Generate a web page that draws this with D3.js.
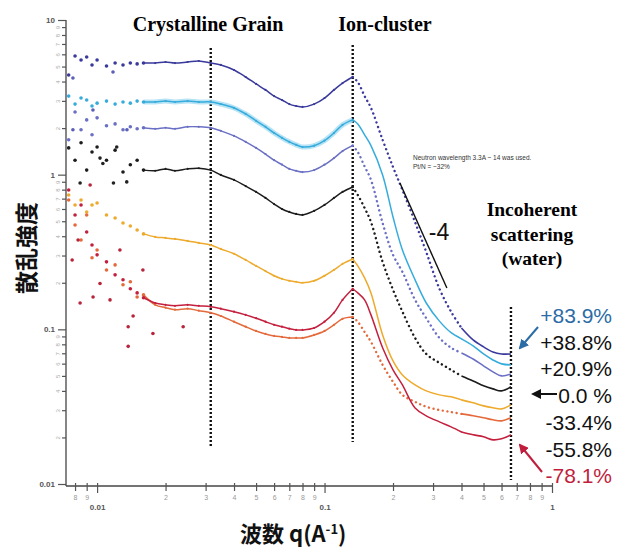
<!DOCTYPE html>
<html>
<head>
<meta charset="utf-8">
<script src="https://cdn.jsdelivr.net/npm/d3@7"></script>
<style>
  body { margin: 0; background: #fff; }
</style>
</head>
<body>
<div id="chart"></div>
<script>
// scattering vector q (1/A), shared by every curve
const qValues = [0.0075, 0.008, 0.0085, 0.009, 0.0095, 0.010, 0.011, 0.012, 0.013, 0.014,
  0.015, 0.016, 0.018, 0.020, 0.022, 0.025, 0.028, 0.0316, 0.035, 0.04,
  0.045, 0.05, 0.055, 0.06, 0.065, 0.07, 0.075, 0.08, 0.09, 0.10,
  0.11, 0.12, 0.133, 0.14, 0.15, 0.16, 0.18, 0.20, 0.22, 0.25,
  0.28, 0.32, 0.36, 0.40, 0.45, 0.50, 0.55, 0.60, 0.66];

// scattering intensity for each humidity change
const p839 = [4.41, 5.85, 5.51, 5.77, 5.12, 5.51, 5.04, 5.27, 5.12, 5.27,
  5.20, 5.27, 5.27, 5.35, 5.27, 5.35, 5.43, 5.27, 5.12, 4.75,
  4.28, 3.86, 3.53, 3.22, 3.04, 2.86, 2.78, 2.74, 2.86, 3.13,
  3.53, 3.91, 4.28, 3.97, 3.22, 2.70, 1.68, 1.12, 0.796, 0.494,
  0.316, 0.183, 0.130, 0.102, 0.0854, 0.0770, 0.0714, 0.0693, 0.0693];
const p388 = [3.22, 2.86, 3.13, 3.04, 2.78, 2.90, 2.99, 2.86, 2.95, 2.90,
  2.99, 2.95, 2.95, 2.99, 2.95, 2.99, 2.95, 2.95, 2.86, 2.70,
  2.47, 2.23, 2.04, 1.86, 1.73, 1.63, 1.56, 1.51, 1.54, 1.66,
  1.86, 2.10, 2.26, 2.13, 1.81, 1.54, 0.996, 0.533, 0.326, 0.209,
  0.148, 0.113, 0.0951, 0.0867, 0.0781, 0.0693, 0.0634, 0.0598, 0.0589];
const p209 = [1.68, 2.54, 1.95, 2.26, 1.81, 2.33, 2.07, 2.13, 1.95, 2.04,
  1.98, 2.01, 1.98, 2.01, 1.98, 2.04, 2.04, 2.01, 1.92, 1.78,
  1.63, 1.49, 1.36, 1.24, 1.16, 1.09, 1.06, 1.04, 1.07, 1.16,
  1.28, 1.42, 1.54, 1.40, 1.13, 0.925, 0.487, 0.303, 0.235, 0.155,
  0.118, 0.0880, 0.0760, 0.0704, 0.0643, 0.0580, 0.0531, 0.0500, 0.0515];
const p000 = [1.49, 1.24, 1.61, 1.07, 1.40, 1.51, 1.24, 1.44, 1.04, 1.16,
  1.24, 1.07, 1.06, 1.09, 1.06, 1.09, 1.10, 1.07, 0.996, 0.925,
  0.844, 0.773, 0.707, 0.646, 0.600, 0.574, 0.557, 0.549, 0.583, 0.637,
  0.707, 0.773, 0.832, 0.739, 0.609, 0.494, 0.273, 0.180, 0.130, 0.0880,
  0.0693, 0.0607, 0.0547, 0.0500, 0.0464, 0.0431, 0.0412, 0.0400, 0.0425];
const m334 = [0.739, 0.637, 0.686, 0.574, 0.637, 0.656, 0.549, 0.525, 0.487, 0.466,
  0.439, 0.414, 0.396, 0.390, 0.384, 0.373, 0.362, 0.351, 0.331, 0.308,
  0.281, 0.257, 0.238, 0.222, 0.212, 0.206, 0.203, 0.200, 0.206, 0.222,
  0.242, 0.265, 0.285, 0.257, 0.215, 0.172, 0.0920, 0.0625, 0.0507, 0.0437,
  0.0400, 0.0377, 0.0366, 0.0350, 0.0335, 0.0320, 0.0311, 0.0306, 0.0325];
const m558 = [0.686, 0.473, 0.378, 0.549, 0.290, 0.326, 0.242, 0.261, 0.194, 0.203,
  0.162, 0.167, 0.144, 0.138, 0.134, 0.136, 0.132, 0.128, 0.122, 0.112,
  0.104, 0.0976, 0.0934, 0.0906, 0.0893, 0.0880, 0.0880, 0.0880, 0.0920, 0.0976,
  0.107, 0.117, 0.120, 0.112, 0.0962, 0.0829, 0.0589, 0.0458, 0.0377, 0.0340,
  0.0316, 0.0301, 0.0292, 0.0284, 0.0276, 0.0268, 0.0260, 0.0256, 0.0268];
const m781 = [0.796, 0.549, 0.637, 0.426, 0.351, 0.303, 0.273, 0.225, 0.209, 0.183,
  0.172, 0.160, 0.148, 0.144, 0.142, 0.144, 0.142, 0.140, 0.136, 0.130,
  0.124, 0.118, 0.112, 0.107, 0.104, 0.101, 0.0991, 0.0991, 0.102, 0.112,
  0.128, 0.155, 0.183, 0.172, 0.155, 0.124, 0.0760, 0.0547, 0.0437, 0.0310,
  0.0276, 0.0252, 0.0234, 0.0217, 0.0208, 0.0202, 0.0193, 0.0196, 0.0208];

// stray low-q points
const redScatterQ = [0.00777, 0.00825, 0.00842, 0.00932, 0.0096, 0.0103, 0.0114, 0.0126, 0.0137, 0.0137, 0.0144, 0.0159, 0.0176, 0.0239];
const redScatterI = [0.281, 0.378, 0.148, 0.857, 0.162, 0.198, 0.155, 0.326, 0.104, 0.0776, 0.122, 0.242, 0.0939, 0.104];
const blackScatterQ = [0.00842, 0.0103, 0.0106, 0.0118, 0.0122, 0.0135];
const blackScatterI = [0.884, 1.28, 1.18, 0.884, 1.51, 0.898];
const blueScatterQ = [0.00783, 0.01175, 0.00959, 0.01353, 0.00783];
const blueScatterI = [4.22, 4.61, 2.62, 1.95, 1.95];

// labels
const seriesLabels = ["+83.9%", "+38.8%", "+20.9%", "0.0 %", "-33.4%", "-55.8%", "-78.1%"];
const xMajorTicks = [0.01, 0.1, 1];
const xMajorLabels = ["0.01", "0.1", "1"];
const xMinorTicks = [0.008, 0.009, 0.02, 0.03, 0.04, 0.05, 0.06, 0.07, 0.08, 0.09, 0.2, 0.3, 0.4, 0.5, 0.6, 0.7, 0.8, 0.9];
const yMajorTicks = [0.01, 0.1, 1, 10];
const yMajorLabels = ["0.01", "0.1", "1", "10"];
const yMinorTicks = [0.02, 0.03, 0.04, 0.05, 0.06, 0.07, 0.08, 0.09, 0.2, 0.3, 0.4, 0.5, 0.6, 0.7, 0.8, 0.9, 2, 3, 4, 5, 6, 7, 8, 9];

const width = 619;
const height = 551;

const svg = d3.select("#chart")
  .append("svg")
  .attr("width", width)
  .attr("height", height)
  .style("font-family", "'Liberation Sans', Arial, sans-serif");

const x = d3.scaleLog().domain([0.0073, 1]).range([66, 552]);
const y = d3.scaleLog().domain([0.01, 10]).range([484, 20]);
const axisY = 486;

const series = [
  { values: p839, color: "#3a3a9c", fall: "dot", halo: null },
  { values: p388, color: "#36acdc", fall: "solid", halo: "#a6dcf2" },
  { values: p209, color: "#6a70c4", fall: "dot", halo: null },
  { values: p000, color: "#1c1c1c", fall: "dot", halo: null },
  { values: m334, color: "#eeaa2c", fall: "solid", halo: null },
  { values: m558, color: "#e46a3c", fall: "dot", halo: null },
  { values: m781, color: "#c4203e", fall: "solid", halo: null },
];

const line = d3.line()
  .x((d) => x(d.q))
  .y((d) => y(d.v))
  .curve(d3.curveCatmullRom.alpha(0.5));

// guide lines
const guides = [
  { q: 0.0316, top: 48, bottom: 447 },
  { q: 0.133, top: 45, bottom: 442 },
  { q: 0.66, top: 307, bottom: 480 },
];
svg.append("g")
  .selectAll("line")
  .data(guides)
  .enter()
  .append("line")
  .attr("x1", (d) => x(d.q))
  .attr("x2", (d) => x(d.q))
  .attr("y1", (d) => d.top)
  .attr("y2", (d) => d.bottom)
  .style("stroke", "#111")
  .style("stroke-width", 2.4)
  .style("stroke-dasharray", "2,2");

// curves
const curves = svg.append("g");
series.forEach((s) => {
  const pts = qValues.map((q, i) => ({ q: q, v: s.values[i] }));
  const low = pts.filter((d) => d.q <= 0.016);
  const mid = pts.filter((d) => d.q >= 0.016 && d.q <= 0.133);
  const fall = pts.filter((d) => d.q >= 0.133 && d.q <= 0.40);
  const tail = pts.filter((d) => d.q >= 0.40);

  if (s.halo) {
    curves.append("path")
      .attr("d", line(mid))
      .style("fill", "none")
      .style("stroke", s.halo)
      .style("stroke-width", 5)
      .style("opacity", 0.8);
  }
  curves.append("path")
    .attr("d", line(mid))
    .style("fill", "none")
    .style("stroke", s.color)
    .style("stroke-width", 1.5);
  curves.append("path")
    .attr("d", line(fall))
    .style("fill", "none")
    .style("stroke", s.color)
    .style("stroke-width", s.fall === "dot" ? 2.4 : 1.5)
    .style("stroke-linecap", "round")
    .style("stroke-dasharray", s.fall === "dot" ? "0.1,4.6" : null);
  curves.append("path")
    .attr("d", line(tail))
    .style("fill", "none")
    .style("stroke", s.color)
    .style("stroke-width", 1.6);

  curves.selectAll(null)
    .data(low)
    .enter()
    .append("circle")
    .attr("cx", (d) => x(d.q))
    .attr("cy", (d) => y(d.v))
    .attr("r", 1.8)
    .style("fill", s.color);
  curves.selectAll(null)
    .data(mid)
    .enter()
    .append("circle")
    .attr("cx", (d) => x(d.q))
    .attr("cy", (d) => y(d.v))
    .attr("r", 1.1)
    .style("fill", s.color);
});

// stray points at low q
function strays(qs, vs, color) {
  curves.selectAll(null)
    .data(qs)
    .enter()
    .append("circle")
    .attr("cx", (d) => x(d))
    .attr("cy", (d, i) => y(vs[i]))
    .attr("r", 1.8)
    .style("fill", color);
}
strays(redScatterQ, redScatterI, "#b8243c");
strays(blackScatterQ, blackScatterI, "#222");
strays(blueScatterQ, blueScatterI, "#5a5eb8");

// -4 slope guide
const slope = [{ q: 0.2145, v: 0.884 }, { q: 0.345, v: 0.185 }];
svg.append("line")
  .attr("x1", x(slope[0].q))
  .attr("y1", y(slope[0].v))
  .attr("x2", x(slope[1].q))
  .attr("y2", y(slope[1].v))
  .style("stroke", "#111")
  .style("stroke-width", 1.4);
svg.append("text")
  .attr("x", 439)
  .attr("y", 240)
  .attr("text-anchor", "middle")
  .style("font-size", "23px")
  .style("fill", "#111")
  .text("-4");

// axes
const xAxisG = svg.append("g").attr("transform", `translate(0,${axisY})`);
xAxisG.append("line")
  .attr("x1", 66).attr("x2", 552)
  .style("stroke", "#444").style("stroke-width", 1.3);
const xMinorAxis = xAxisG.append("g")
  .call(d3.axisBottom(x).tickValues(xMinorTicks).tickSize(5).tickPadding(4)
    .tickFormat((d) => Math.round(d / Math.pow(10, Math.floor(Math.log10(d) + 1e-9)))));
const xMajorAxis = xAxisG.append("g")
  .call(d3.axisBottom(x).tickValues(xMajorTicks).tickSize(7).tickPadding(11)
    .tickFormat((d, i) => xMajorLabels[i]));
[xMinorAxis, xMajorAxis].forEach((g) => {
  g.select(".domain").remove();
  g.selectAll(".tick line").attr("y1", -3).style("stroke", "#555").style("stroke-width", 1.2);
});
xMinorAxis.selectAll("text").style("font-size", "7px").style("fill", "#999");
xMajorAxis.selectAll("text").style("font-size", "8px").style("fill", "#555").style("font-weight", "bold");

const yAxisG = svg.append("g").attr("transform", "translate(66,0)");
yAxisG.append("line")
  .attr("y1", 20).attr("y2", axisY)
  .style("stroke", "#444").style("stroke-width", 1.3);
const yMinorAxis = yAxisG.append("g")
  .call(d3.axisLeft(y).tickValues(yMinorTicks).tickSize(4)
    .tickFormat((d) => Math.round(d / Math.pow(10, Math.floor(Math.log10(d) + 1e-9)))));
const yMajorAxis = yAxisG.append("g")
  .call(d3.axisLeft(y).tickValues(yMajorTicks).tickSize(8).tickPadding(3)
    .tickFormat((d, i) => yMajorLabels[i]));
[yMinorAxis, yMajorAxis].forEach((g) => {
  g.select(".domain").remove();
  g.selectAll(".tick line").style("stroke", "#555").style("stroke-width", 1.2);
});
yMinorAxis.selectAll("text")
  .attr("x", 0)
  .attr("dy", 0)
  .attr("text-anchor", "middle")
  .attr("transform", "translate(-6,0) rotate(-90)")
  .style("font-size", "6px")
  .style("fill", "#aaa");
yMajorAxis.selectAll("text").style("font-size", "8px").style("fill", "#555").style("font-weight", "bold");

// axis titles
svg.append("text")
  .attr("transform", "translate(35,248) rotate(-90)")
  .attr("text-anchor", "middle")
  .style("font-family", "'Noto Sans CJK JP', sans-serif")
  .style("font-weight", "bold")
  .style("font-size", "23px")
  .style("fill", "#111")
  .text("散乱強度");

const xTitle = svg.append("text")
  .attr("x", 240)
  .attr("y", 542)
  .style("font-family", "'Noto Sans CJK JP', sans-serif")
  .style("font-weight", "bold")
  .style("font-size", "22px")
  .style("fill", "#111");
xTitle.append("tspan").text("波数 q(A");
xTitle.append("tspan").attr("dy", -8).style("font-size", "13px").text("-1");
xTitle.append("tspan").attr("dy", 8).text(")");

// region titles
const serif = "'Liberation Serif', 'Times New Roman', serif";
svg.append("text")
  .attr("x", 208).attr("y", 31)
  .attr("text-anchor", "middle")
  .style("font-family", serif).style("font-weight", "bold").style("font-size", "20px")
  .text("Crystalline Grain");
svg.append("text")
  .attr("x", 385).attr("y", 31)
  .attr("text-anchor", "middle")
  .style("font-family", serif).style("font-weight", "bold").style("font-size", "20px")
  .text("Ion-cluster");
const incoh = svg.append("text")
  .attr("text-anchor", "middle")
  .style("font-family", serif).style("font-weight", "bold").style("font-size", "19.5px");
["Incoherent", "scattering", "(water)"].forEach((t, i) => {
  incoh.append("tspan").attr("x", 532).attr("y", [216, 241, 265][i]).text(t);
});

// instrument note
const note = svg.append("text")
  .style("font-size", "6.5px")
  .style("fill", "#333");
note.append("tspan").attr("x", 413).attr("y", 160).text("Neutron wavelength 3.3A ~ 14 was used.");
note.append("tspan").attr("x", 413).attr("y", 169).text("Pt/N = ~32%");

// right-hand labels
const labelColors = ["#2c6ca6", "#111", "#111", "#111", "#111", "#111", "#c01e3c"];
svg.append("g")
  .selectAll("text")
  .data(seriesLabels)
  .enter()
  .append("text")
  .attr("x", 612)
  .attr("y", (d, i) => 323 + i * 26.7)
  .attr("text-anchor", "end")
  .style("font-size", "21px")
  .style("fill", (d, i) => labelColors[i])
  .text((d) => d);

// arrows
const defs = svg.append("defs");
const arrows = [
  { id: "ab", color: "#2c6ca6", x1: 538, y1: 327, x2: 520, y2: 348 },
  { id: "ak", color: "#111", x1: 557, y1: 394, x2: 533, y2: 394 },
  { id: "ar", color: "#c01e3c", x1: 542, y1: 472, x2: 520, y2: 445 },
];
arrows.forEach((a) => {
  defs.append("marker")
    .attr("id", a.id)
    .attr("viewBox", "0 0 10 10")
    .attr("refX", 8).attr("refY", 5)
    .attr("markerWidth", 5).attr("markerHeight", 5)
    .attr("orient", "auto")
    .append("path")
    .attr("d", "M0,0L10,5L0,10z")
    .style("fill", a.color);
  svg.append("line")
    .attr("x1", a.x1).attr("y1", a.y1)
    .attr("x2", a.x2).attr("y2", a.y2)
    .style("stroke", a.color)
    .style("stroke-width", 2)
    .attr("marker-end", `url(#${a.id})`);
});
</script>
</body>
</html>
